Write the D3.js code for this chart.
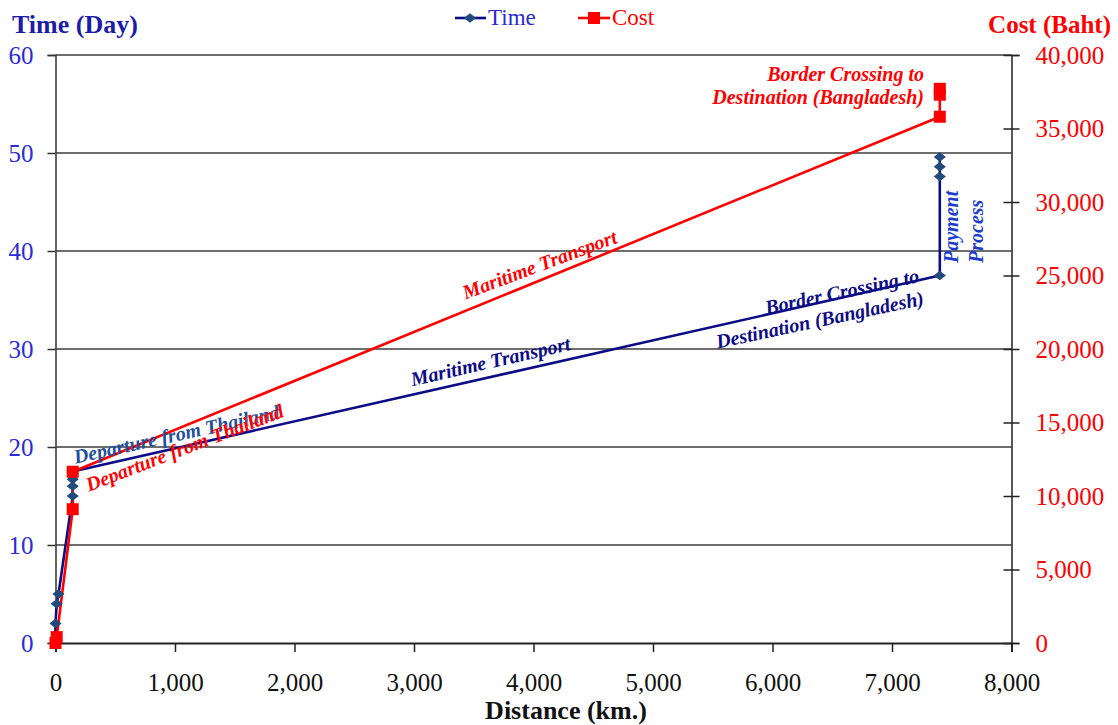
<!DOCTYPE html>
<html>
<head>
<meta charset="utf-8">
<script src="https://cdn.jsdelivr.net/npm/d3@7/dist/d3.min.js"></script>
<style>
  html, body { margin: 0; padding: 0; background: #ffffff; }
  svg { display: block; }
  svg text { font-family: 'Liberation Serif', 'Times New Roman', serif; }
</style>
</head>
<body>
<svg id="chart" width="1118" height="725"></svg>
<script>
// Time series: distance (km) vs. elapsed days
const timeDistance = [0, 0, 10, 25, 144, 144, 144, 144, 7400, 7400, 7400, 7400];
const timeDays     = [0, 2, 4, 5, 15, 16, 16.7, 17.5, 37.5, 47.6, 48.6, 49.6];

// Cost series: distance (km) vs. accumulated cost (Baht)
const costDistance = [0, 10, 144, 144, 7400, 7400, 7400];
const costBaht     = [0, 400, 9100, 11650, 35800, 37300, 37700];

// Axis ticks
const distanceTicks = [0, 1000, 2000, 3000, 4000, 5000, 6000, 7000, 8000];
const dayTicks      = [0, 10, 20, 30, 40, 50, 60];
const bahtTicks     = [0, 5000, 10000, 15000, 20000, 25000, 30000, 35000, 40000];

const FONT = "'Liberation Serif', 'Times New Roman', serif";
const NAVY = "#0c0c86";
const DIAMOND = "#234a7c";
const RED = "#ff0000";
const TICK_BLUE = "#2b2bd8";
const GRID = "#3c3c3c";

const svg = d3.select("#chart");

const x = d3.scaleLinear().domain([0, 8000]).range([55.5, 1011.5]);
const yL = d3.scaleLinear().domain([0, 60]).range([643, 55]);
const yR = d3.scaleLinear().domain([0, 40000]).range([643, 55]);

function tickFont(sel, color) {
  sel.attr("font-family", FONT).style("font-family", FONT)
    .attr("font-size", 25).attr("fill", color);
}

// Horizontal gridlines
svg.append("g").selectAll("line")
  .data(dayTicks.filter(d => d > 0))
  .join("line")
  .attr("x1", x(0)).attr("x2", x(8000))
  .attr("y1", d => yL(d)).attr("y2", d => yL(d))
  .attr("stroke", GRID).attr("stroke-width", 1.5);

// Left axis (days)
const gL = svg.append("g").attr("transform", `translate(${x(0)},0)`)
  .call(d3.axisLeft(yL).tickValues(dayTicks).tickSize(8).tickPadding(14));
gL.attr("font-family", FONT);
gL.select(".domain").attr("stroke", "#333").attr("stroke-width", 1.5);
gL.selectAll(".tick line").attr("stroke", "#333").attr("stroke-width", 1.5);
tickFont(gL.selectAll(".tick text").attr("dy", "0.33em"), TICK_BLUE);

// Right axis (Baht), ticks cross the axis line
const gR = svg.append("g").attr("transform", `translate(${x(8000)},0)`)
  .call(d3.axisRight(yR).tickValues(bahtTicks).tickSize(8).tickPadding(16)
    .tickFormat(d3.format(",")));
gR.attr("font-family", FONT);
gR.select(".domain").attr("stroke", "#222").attr("stroke-width", 1.5);
gR.selectAll(".tick line").attr("x1", -8).attr("stroke", "#222").attr("stroke-width", 1.5);
tickFont(gR.selectAll(".tick text").attr("dy", "0.33em"), RED);

// Bottom axis (distance)
const gB = svg.append("g").attr("transform", `translate(0,${yL(0)})`)
  .call(d3.axisBottom(x).tickValues(distanceTicks).tickSize(9).tickPadding(21)
    .tickFormat(d3.format(",")));
gB.attr("font-family", FONT);
gB.select(".domain").attr("stroke", "#222").attr("stroke-width", 1.8);
gB.selectAll(".tick line").attr("stroke", "#222").attr("stroke-width", 1.5);
tickFont(gB.selectAll(".tick text"), "#111");

// Series lines
const timePts = timeDistance.map((d, i) => [x(d), yL(timeDays[i])]);
const costPts = costDistance.map((d, i) => [x(d), yR(costBaht[i])]);
const line = d3.line();

svg.append("path").attr("d", line(timePts))
  .attr("fill", "none").attr("stroke", NAVY).attr("stroke-width", 2.6)
  .attr("stroke-linejoin", "round");
svg.append("path").attr("d", line(costPts))
  .attr("fill", "none").attr("stroke", RED).attr("stroke-width", 2.6)
  .attr("stroke-linejoin", "round");

// Markers
const diamond = d3.symbol().type(d3.symbolDiamond2).size(60);
svg.append("g").selectAll("path")
  .data(timePts).join("path")
  .attr("d", diamond)
  .attr("transform", d => `translate(${d[0]},${d[1]}) scale(1.25,1)`)
  .attr("fill", DIAMOND);

svg.append("g").selectAll("rect")
  .data(costPts).join("rect")
  .attr("x", d => d[0] - 6).attr("y", d => d[1] - 6)
  .attr("width", 12).attr("height", 12)
  .attr("fill", RED);

// Stage annotations
function label(tx, ty, angle, lines, color, anchor, lineGap) {
  const g = svg.append("g").attr("transform", `translate(${tx},${ty}) rotate(${angle})`);
  lines.forEach((t, i) => {
    g.append("text").attr("x", 0).attr("y", i * (lineGap || 23))
      .attr("text-anchor", anchor)
      .attr("font-family", FONT).attr("font-size", 20)
      .attr("font-weight", "bold").attr("font-style", "italic")
      .attr("fill", color).text(t);
  });
}

label(178, 441, -12.5, ["Departure from Thailand"], "#1f4f9c", "middle");
label(187, 454, -21, ["Departure from Thailand"], RED, "middle");
label(492, 368, -13, ["Maritime Transport"], NAVY, "middle");
label(542, 271, -20.5, ["Maritime Transport"], RED, "middle");
label(920, 282, -12, ["Border Crossing to", "Destination (Bangladesh)"], NAVY, "end");
label(924, 81, 0, ["Border Crossing to", "Destination (Bangladesh)"], RED, "end");
label(958, 263, -90, ["Payment", "Process"], "#1b3ccc", "start", 25);

// Axis titles
svg.append("text").attr("x", 12).attr("y", 33)
  .attr("font-family", FONT).attr("font-size", 26).attr("font-weight", "bold")
  .attr("fill", "#1c1ca8").text("Time (Day)");
svg.append("text").attr("x", 1111).attr("y", 33).attr("text-anchor", "end")
  .attr("font-family", FONT).attr("font-size", 25).attr("font-weight", "bold")
  .attr("fill", RED).text("Cost (Baht)");
svg.append("text").attr("x", 566).attr("y", 719).attr("text-anchor", "middle")
  .attr("font-family", FONT).attr("font-size", 26).attr("font-weight", "bold")
  .attr("fill", "#111").text("Distance (km.)");

// Legend
const legend = svg.append("g");
legend.append("line").attr("x1", 455).attr("x2", 486).attr("y1", 18).attr("y2", 18)
  .attr("stroke", NAVY).attr("stroke-width", 2.6);
legend.append("path").attr("d", diamond)
  .attr("transform", "translate(470,18) scale(1.25,1)").attr("fill", DIAMOND);
legend.append("text").attr("x", 488).attr("y", 25)
  .attr("font-family", FONT).attr("font-size", 23).attr("fill", "#2a2ad0").text("Time");

legend.append("line").attr("x1", 578).attr("x2", 610).attr("y1", 18).attr("y2", 18)
  .attr("stroke", RED).attr("stroke-width", 2.6);
legend.append("rect").attr("x", 588).attr("y", 12).attr("width", 12).attr("height", 12)
  .attr("fill", RED);
legend.append("text").attr("x", 612).attr("y", 25)
  .attr("font-family", FONT).attr("font-size", 23).attr("fill", RED).text("Cost");
</script>
</body>
</html>
